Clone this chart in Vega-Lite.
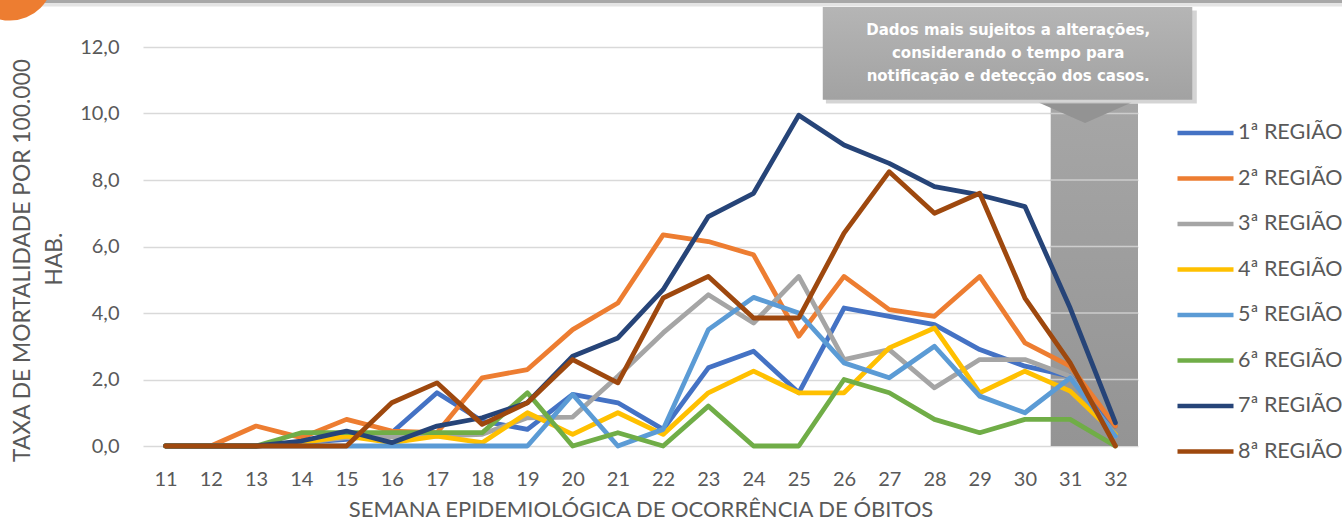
{
  "$schema": "https://vega.github.io/schema/vega-lite/v6.json",
  "width": 995,
  "height": 399,
  "autosize": {"type": "none"},
  "padding": {"left": 143, "top": 47, "right": 204, "bottom": 80},
  "background": "white",
  "config": {
    "locale": {"number": {"decimal": ",", "thousands": ".", "grouping": [3], "currency": ["", ""]}},
    "view": {"stroke": null},
    "font": "Lato"
  },
  "datasets": {
    "taxas": [
      {"semana": 11, "1ª REGIÃO": 0, "2ª REGIÃO": 0, "3ª REGIÃO": 0, "4ª REGIÃO": 0, "5ª REGIÃO": 0, "6ª REGIÃO": 0, "7ª REGIÃO": 0, "8ª REGIÃO": 0},
      {"semana": 12, "1ª REGIÃO": 0, "2ª REGIÃO": 0, "3ª REGIÃO": 0, "4ª REGIÃO": 0, "5ª REGIÃO": 0, "6ª REGIÃO": 0, "7ª REGIÃO": 0, "8ª REGIÃO": 0},
      {"semana": 13, "1ª REGIÃO": 0, "2ª REGIÃO": 0.6, "3ª REGIÃO": 0, "4ª REGIÃO": 0, "5ª REGIÃO": 0, "6ª REGIÃO": 0, "7ª REGIÃO": 0, "8ª REGIÃO": 0},
      {"semana": 14, "1ª REGIÃO": 0.1, "2ª REGIÃO": 0.25, "3ª REGIÃO": 0.1, "4ª REGIÃO": 0.1, "5ª REGIÃO": 0, "6ª REGIÃO": 0.4, "7ª REGIÃO": 0.15, "8ª REGIÃO": 0},
      {"semana": 15, "1ª REGIÃO": 0.2, "2ª REGIÃO": 0.8, "3ª REGIÃO": 0.25, "4ª REGIÃO": 0.3, "5ª REGIÃO": 0, "6ª REGIÃO": 0.4, "7ª REGIÃO": 0.45, "8ª REGIÃO": 0},
      {"semana": 16, "1ª REGIÃO": 0.4, "2ª REGIÃO": 0.45, "3ª REGIÃO": 0.27, "4ª REGIÃO": 0.1, "5ª REGIÃO": 0, "6ª REGIÃO": 0.4, "7ª REGIÃO": 0.1, "8ª REGIÃO": 1.3},
      {"semana": 17, "1ª REGIÃO": 1.6, "2ª REGIÃO": 0.4, "3ª REGIÃO": 0.3, "4ª REGIÃO": 0.3, "5ª REGIÃO": 0, "6ª REGIÃO": 0.4, "7ª REGIÃO": 0.6, "8ª REGIÃO": 1.9},
      {"semana": 18, "1ª REGIÃO": 0.75, "2ª REGIÃO": 2.05, "3ª REGIÃO": 0.35, "4ª REGIÃO": 0.1, "5ª REGIÃO": 0, "6ª REGIÃO": 0.4, "7ª REGIÃO": 0.85, "8ª REGIÃO": 0.65},
      {"semana": 19, "1ª REGIÃO": 0.5, "2ª REGIÃO": 2.3, "3ª REGIÃO": 0.85, "4ª REGIÃO": 1.0, "5ª REGIÃO": 0, "6ª REGIÃO": 1.6, "7ª REGIÃO": 1.3, "8ª REGIÃO": 1.3},
      {"semana": 20, "1ª REGIÃO": 1.55, "2ª REGIÃO": 3.5, "3ª REGIÃO": 0.87, "4ª REGIÃO": 0.35, "5ª REGIÃO": 1.55, "6ª REGIÃO": 0, "7ª REGIÃO": 2.7, "8ª REGIÃO": 2.6},
      {"semana": 21, "1ª REGIÃO": 1.3, "2ª REGIÃO": 4.3, "3ª REGIÃO": 2.1, "4ª REGIÃO": 1.0, "5ª REGIÃO": 0, "6ª REGIÃO": 0.4, "7ª REGIÃO": 3.25, "8ª REGIÃO": 1.9},
      {"semana": 22, "1ª REGIÃO": 0.5, "2ª REGIÃO": 6.35, "3ª REGIÃO": 3.4, "4ª REGIÃO": 0.35, "5ª REGIÃO": 0.5, "6ª REGIÃO": 0, "7ª REGIÃO": 4.7, "8ª REGIÃO": 4.45},
      {"semana": 23, "1ª REGIÃO": 2.35, "2ª REGIÃO": 6.15, "3ª REGIÃO": 4.55, "4ª REGIÃO": 1.6, "5ª REGIÃO": 3.5, "6ª REGIÃO": 1.2, "7ª REGIÃO": 6.9, "8ª REGIÃO": 5.1},
      {"semana": 24, "1ª REGIÃO": 2.85, "2ª REGIÃO": 5.75, "3ª REGIÃO": 3.7, "4ª REGIÃO": 2.25, "5ª REGIÃO": 4.47, "6ª REGIÃO": 0, "7ª REGIÃO": 7.6, "8ª REGIÃO": 3.85},
      {"semana": 25, "1ª REGIÃO": 1.6, "2ª REGIÃO": 3.3, "3ª REGIÃO": 5.1, "4ª REGIÃO": 1.6, "5ª REGIÃO": 4.0, "6ª REGIÃO": 0, "7ª REGIÃO": 9.95, "8ª REGIÃO": 3.85},
      {"semana": 26, "1ª REGIÃO": 4.15, "2ª REGIÃO": 5.1, "3ª REGIÃO": 2.6, "4ª REGIÃO": 1.6, "5ª REGIÃO": 2.5, "6ª REGIÃO": 2.0, "7ª REGIÃO": 9.05, "8ª REGIÃO": 6.4},
      {"semana": 27, "1ª REGIÃO": 3.9, "2ª REGIÃO": 4.1, "3ª REGIÃO": 2.9, "4ª REGIÃO": 2.95, "5ª REGIÃO": 2.05, "6ª REGIÃO": 1.6, "7ª REGIÃO": 8.5, "8ª REGIÃO": 8.25},
      {"semana": 28, "1ª REGIÃO": 3.65, "2ª REGIÃO": 3.9, "3ª REGIÃO": 1.75, "4ª REGIÃO": 3.55, "5ª REGIÃO": 3.0, "6ª REGIÃO": 0.8, "7ª REGIÃO": 7.8, "8ª REGIÃO": 7.0},
      {"semana": 29, "1ª REGIÃO": 2.9, "2ª REGIÃO": 5.1, "3ª REGIÃO": 2.6, "4ª REGIÃO": 1.6, "5ª REGIÃO": 1.5, "6ª REGIÃO": 0.4, "7ª REGIÃO": 7.55, "8ª REGIÃO": 7.6},
      {"semana": 30, "1ª REGIÃO": 2.4, "2ª REGIÃO": 3.1, "3ª REGIÃO": 2.6, "4ª REGIÃO": 2.25, "5ª REGIÃO": 1.0, "6ª REGIÃO": 0.8, "7ª REGIÃO": 7.2, "8ª REGIÃO": 4.45},
      {"semana": 31, "1ª REGIÃO": 2.1, "2ª REGIÃO": 2.4, "3ª REGIÃO": 2.1, "4ª REGIÃO": 1.65, "5ª REGIÃO": 2.05, "6ª REGIÃO": 0.8, "7ª REGIÃO": 4.15, "8ª REGIÃO": 2.5},
      {"semana": 32, "1ª REGIÃO": 0.6, "2ª REGIÃO": 0.6, "3ª REGIÃO": 0.3, "4ª REGIÃO": 0.35, "5ª REGIÃO": 0.3, "6ª REGIÃO": 0, "7ª REGIÃO": 0.7, "8ª REGIÃO": 0}
    ],
    "grade": [{"g": 2}, {"g": 4}, {"g": 6}, {"g": 8}, {"g": 10}],
    "um": [{}]
  },
  "layer": [
    {
      "data": {"name": "um"},
      "mark": {"type": "rect", "clip": false, "fill": "#a8a8a8"},
      "encoding": {
        "x": {"datum": 7.3, "type": "quantitative"},
        "x2": {"datum": 37.2},
        "y": {"datum": 13.41, "type": "quantitative"},
        "y2": {"datum": 13.32}
      }
    },
    {
      "data": {"name": "um"},
      "mark": {"type": "rect", "clip": false, "fill": "#e4e4e4"},
      "encoding": {
        "x": {"datum": 7.3, "type": "quantitative"},
        "x2": {"datum": 37.2},
        "y": {"datum": 13.32, "type": "quantitative"},
        "y2": {"datum": 13.22}
      }
    },
    {
      "data": {"name": "um"},
      "mark": {"type": "rect", "clip": false, "fill": {"gradient": "linear", "x1": 0, "y1": 0, "x2": 0, "y2": 1, "stops": [{"offset": 0, "color": "#a6a6a6"}, {"offset": 1, "color": "#949494"}]}},
      "encoding": {
        "x": {"datum": 30.57, "type": "quantitative"},
        "x2": {"datum": 32.5},
        "y": {"datum": 0, "type": "quantitative"},
        "y2": {"datum": 10.3}
      }
    },
    {
      "data": {"name": "grade"},
      "mark": {"type": "rule", "clip": false, "color": "#cdcdcd", "strokeWidth": 1.5},
      "encoding": {
        "x": {"datum": 30.57, "type": "quantitative"},
        "x2": {"datum": 32.5},
        "y": {"field": "g", "type": "quantitative"}
      }
    },
    {
      "data": {"name": "taxas"},
      "transform": [
        {"fold": ["1ª REGIÃO", "2ª REGIÃO", "3ª REGIÃO", "4ª REGIÃO", "5ª REGIÃO", "6ª REGIÃO", "7ª REGIÃO", "8ª REGIÃO"], "as": ["regiao", "taxa"]}
      ],
      "mark": {"type": "line", "strokeWidth": 4.8, "strokeJoin": "round", "strokeCap": "round", "clip": false},
      "encoding": {
        "x": {
          "field": "semana", "type": "quantitative",
          "scale": {"domain": [10.5, 32.5], "nice": false, "zero": false},
          "axis": {
            "values": [11, 12, 13, 14, 15, 16, 17, 18, 19, 20, 21, 22, 23, 24, 25, 26, 27, 28, 29, 30, 31, 32],
            "format": "d", "grid": false, "domain": false, "ticks": false, "tickSize": 0,
            "labelFont": "Lato", "labelFontSize": 20, "labelColor": "#595959", "labelPadding": 23,
            "title": "SEMANA EPIDEMIOLÓGICA DE OCORRÊNCIA DE ÓBITOS",
            "titleFont": "Lato", "titleFontSize": 22, "titleFontWeight": "normal", "titleColor": "#595959",
            "titleBaseline": "middle", "titleY": 63
          }
        },
        "y": {
          "field": "taxa", "type": "quantitative",
          "scale": {"domain": [0, 12], "nice": false},
          "axis": {
            "values": [0, 2, 4, 6, 8, 10, 12], "format": ".1f",
            "grid": true, "gridColor": "#d9d9d9", "gridWidth": 1.5,
            "domain": false, "ticks": false, "tickSize": 0,
            "labelFont": "Lato", "labelFontSize": 20, "labelColor": "#595959", "labelPadding": 24,
            "title": "TAXA DE MORTALIDADE POR 100.000",
            "titleFont": "Lato", "titleFontSize": 22.8, "titleFontWeight": "normal", "titleColor": "#595959",
            "titleBaseline": "middle", "titleAlign": "center",
            "titleX": -121, "titleY": 213
          }
        },
        "color": {
          "field": "regiao", "type": "nominal",
          "scale": {
            "domain": ["1ª REGIÃO", "2ª REGIÃO", "3ª REGIÃO", "4ª REGIÃO", "5ª REGIÃO", "6ª REGIÃO", "7ª REGIÃO", "8ª REGIÃO"],
            "range": ["#4472C4", "#ED7D31", "#A5A5A5", "#FFC000", "#5B9BD5", "#70AD47", "#264478", "#9E480E"]
          },
          "legend": {
            "orient": "none", "legendX": 1032, "legendY": 75, "title": null,
            "symbolType": "stroke", "symbolSize": 3136, "symbolStrokeWidth": 4.5,
            "clipHeight": 22, "rowPadding": 23.5, "padding": 0,
            "labelFont": "Lato", "labelFontSize": 21.5, "labelColor": "#595959", "labelOffset": 2
          }
        }
      }
    },
    {
      "data": {"name": "um"},
      "mark": {"type": "text", "clip": false, "text": "HAB.", "font": "Lato", "fontSize": 22.8, "color": "#595959", "align": "center", "baseline": "middle", "angle": 270},
      "encoding": {
        "x": {"datum": 8.554, "type": "quantitative"},
        "y": {"datum": 5.624, "type": "quantitative"}
      }
    },
    {
      "data": {"name": "um"},
      "mark": {"type": "point", "clip": false, "filled": true, "opacity": 1, "shape": "M-1,-0.22L1,-0.22L0,0.22Z", "size": 8649, "color": "#939393"},
      "encoding": {
        "x": {"datum": 31.33, "type": "quantitative"},
        "y": {"datum": 10.02, "type": "quantitative"}
      }
    },
    {
      "data": {"name": "um"},
      "mark": {"type": "rect", "clip": false, "fill": "#c9c9c9", "opacity": 0.8},
      "encoding": {
        "x": {"datum": 25.6, "type": "quantitative"},
        "x2": {"datum": 33.8},
        "y": {"datum": 13.1, "type": "quantitative"},
        "y2": {"datum": 10.3}
      }
    },
    {
      "data": {"name": "um"},
      "mark": {"type": "rect", "clip": false, "fill": {"gradient": "linear", "x1": 0, "y1": 0, "x2": 0, "y2": 1, "stops": [{"offset": 0, "color": "#b5b5b5"}, {"offset": 1, "color": "#a2a2a2"}]}},
      "encoding": {
        "x": {"datum": 25.53, "type": "quantitative"},
        "x2": {"datum": 33.7},
        "y": {"datum": 13.2, "type": "quantitative"},
        "y2": {"datum": 10.41}
      }
    },
    {
      "data": {"name": "um"},
      "mark": {"type": "text", "clip": false, "text": ["Dados mais sujeitos a alterações,", "considerando o tempo para", "notificação e detecção dos casos."], "font": "DejaVu Sans", "fontWeight": "bold", "fontSize": 15, "color": "#ffffff", "align": "center", "baseline": "middle", "lineHeight": 23},
      "encoding": {
        "x": {"datum": 29.63, "type": "quantitative"},
        "y": {"datum": 12.51, "type": "quantitative"}
      }
    },
    {
      "data": {"name": "um"},
      "mark": {"type": "point", "clip": false, "filled": true, "opacity": 1, "shape": "circle", "size": 7420, "color": "#ED7D31"},
      "encoding": {
        "x": {"datum": 7.56, "type": "quantitative"},
        "y": {"datum": 14.09, "type": "quantitative"}
      }
    }
  ]
}
